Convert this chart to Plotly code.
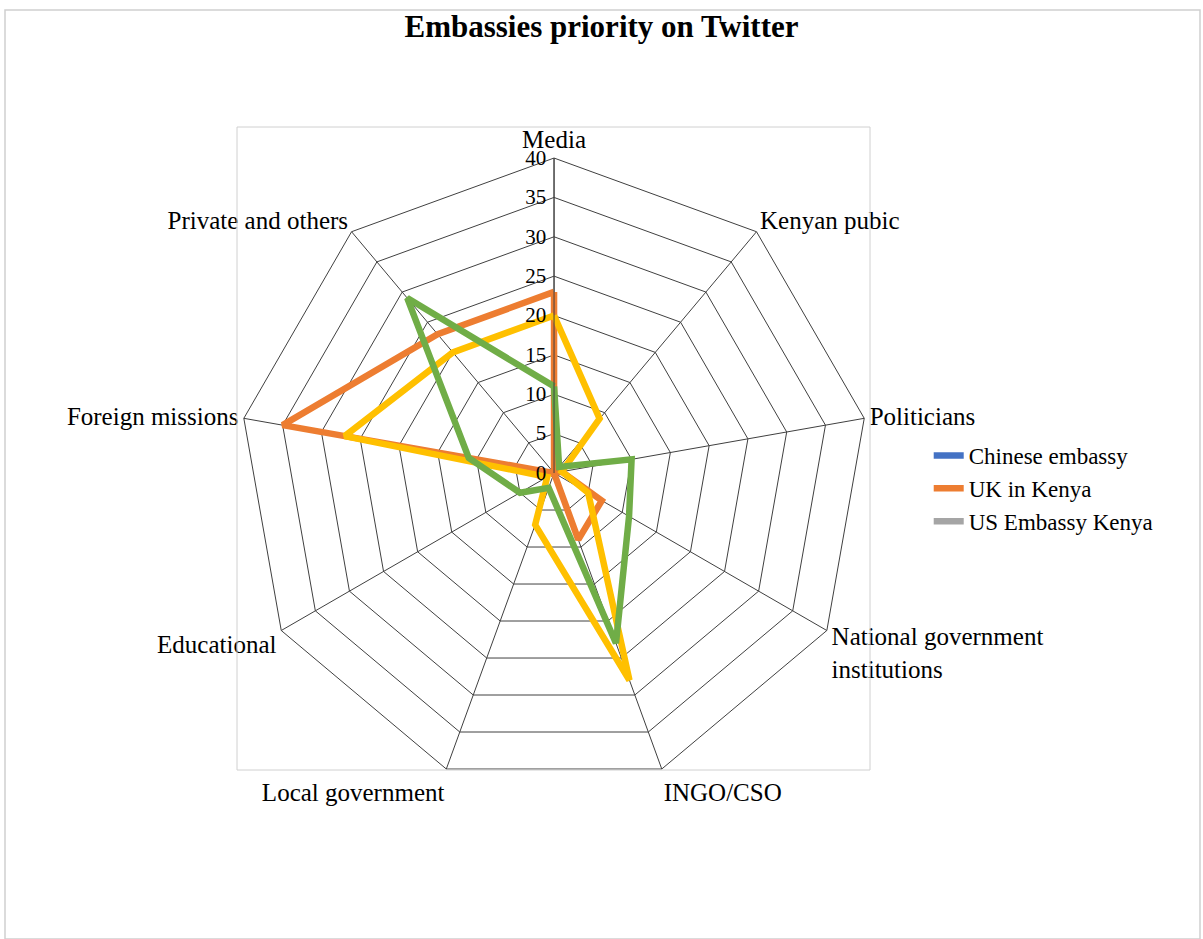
import plotly.graph_objects as go

categories = ["Media", "Kenyan pubic", "Politicians", "National government<br>institutions",
              "INGO/CSO", "Local government", "Educational", "Foreign missions", "Private and others"]

# Series shown in the legend (blue and gray are not visible in the picture)
chinese_embassy = [None] * 9
uk_in_kenya = [23, 0, 1, 7, 9, 0, 0, 35, 23]
us_embassy_kenya = [None] * 9
# Series drawn but not listed in the legend
series_yellow = [20, 9, 1, 5, 28, 7, 1, 27, 20]
series_green = [11, 1, 10, 11, 23, 2, 5, 11, 29]

radial_ticks = [0, 5, 10, 15, 20, 25, 30, 35, 40]

SERIF = "Liberation Serif, Times New Roman, serif"


def closed(vals):
    return list(vals) + [vals[0]]


cats_closed = closed(categories)

fig = go.Figure()
traces = [
    ("Chinese embassy", chinese_embassy, "#4472C4", True),
    ("UK in Kenya", uk_in_kenya, "#ED7D31", True),
    ("US Embassy Kenya", us_embassy_kenya, "#A5A5A5", True),
    ("Series 4", series_yellow, "#FFC000", False),
    ("Series 6", series_green, "#70AD47", False),
]
for name, vals, color, show in traces:
    fig.add_trace(go.Scatterpolar(
        r=closed(vals), theta=cats_closed, name=name, mode="lines",
        line=dict(color=color, width=6.5), showlegend=show,
    ))

fig.update_layout(
    width=1203, height=939,
    margin=dict(l=0, r=0, t=0, b=0),
    paper_bgcolor="white",
    title=dict(text="<b>Embassies priority on Twitter</b>", x=0.5, xanchor="center",
               y=1 - 26 / 939, yanchor="middle",
               font=dict(family=SERIF, size=31, color="black")),
    font=dict(family=SERIF, size=25, color="black"),
    polar=dict(
        domain=dict(x=[0.1987, 0.7224], y=[0.1608, 0.8317]),
        bgcolor="white",
        gridshape="linear",
        angularaxis=dict(
            direction="clockwise", rotation=90, type="category",
            linecolor="#404040", linewidth=1, gridcolor="#404040", gridwidth=1,
            ticks="", tickfont=dict(family=SERIF, size=25, color="black"),
        ),
        radialaxis=dict(
            range=[0, 40], tickvals=radial_ticks, angle=90, tickangle=90,
            side="counterclockwise",
            linecolor="#404040", linewidth=1, gridcolor="#404040", gridwidth=1,
            ticks="", showline=True,
            tickfont=dict(family=SERIF, size=21, color="black"),
        ),
    ),
    legend=dict(x=0.772, y=1 - 434 / 939, xanchor="left", yanchor="top",
                font=dict(family=SERIF, size=23, color="black"),
                bgcolor="rgba(0,0,0,0)", itemwidth=30, tracegroupgap=0),
    shapes=[
        dict(type="rect", xref="paper", yref="paper", x0=5 / 1203, x1=1200 / 1203,
             y0=0, y1=1 - 10 / 939, line=dict(color="#d0d0d0", width=1.5)),
        dict(type="rect", xref="paper", yref="paper", x0=237 / 1203, x1=870 / 1203,
             y0=1 - 770 / 939, y1=1 - 127 / 939, line=dict(color="#d0d0d0", width=1)),
    ],
)

fig.write_html("out.html")
